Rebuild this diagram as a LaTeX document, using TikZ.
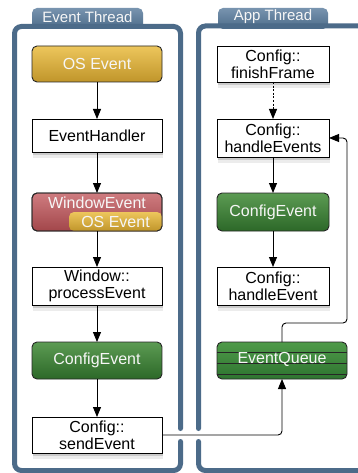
\documentclass[tikz,border=0pt]{standalone}
\usepackage{fontspec}
\setmainfont{Liberation Sans}
\usetikzlibrary{arrows.meta,shadows}
\definecolor{frame}{HTML}{4C6B89}
\definecolor{frametop}{HTML}{7894AF}
\definecolor{goldtop}{HTML}{EDC65C}
\definecolor{goldbot}{HTML}{C0952A}
\definecolor{redtop}{HTML}{CF7C80}
\definecolor{redbot}{HTML}{A2464A}
\definecolor{greentop}{HTML}{5C9B53}
\definecolor{greenbot}{HTML}{2C6828}
\definecolor{eqtop}{HTML}{4F9A49}
\definecolor{eqbot}{HTML}{2E7430}
\definecolor{txtw}{HTML}{F6F6F6}
\begin{document}
\begin{tikzpicture}[x=1pt,y=-1pt,
  every node/.style={font=\fontsize{16}{17}\selectfont, align=center, inner sep=0pt, outer sep=0pt},
  shadowed/.style={drop shadow={shadow xshift=0.5pt, shadow yshift=-3pt, opacity=0.3},
                   drop shadow={shadow xshift=1pt, shadow yshift=-6pt, opacity=0.15}},
  wbox/.style={draw=black, line width=0.9pt, fill=white, shadowed},
  goldbox/.style={draw=black!85, line width=0.9pt, rounded corners=5pt, top color=goldtop, bottom color=goldbot, text=txtw},
  redbox/.style={draw=black!85, line width=0.9pt, rounded corners=5pt, top color=redtop, bottom color=redbot, text=txtw},
  greenbox/.style={draw=black!85, line width=0.9pt, rounded corners=5pt, top color=greentop, bottom color=greenbot, text=txtw},
  queuebox/.style={draw=black!85, line width=0.9pt, rounded corners=5pt, top color=eqtop, bottom color=eqbot, text=txtw},
  frameline/.style={draw=frame, line width=5pt, rounded corners=7pt, line cap=round},
  tabshape/.style={top color=frametop, bottom color=frame, rounded corners=5pt},
  tabtext/.style={text=txtw, font=\fontsize{15}{16}\selectfont},
  arr/.style={-{Triangle[length=10pt,width=8pt]}, line width=0.9pt, draw=black},
  darr/.style={arr, dash pattern=on 2pt off 1.6pt}
]
\clip (0,0) rectangle (358,473);
\fill[white] (0,0) rectangle (358,473);

% tabs
\shade[tabshape] (32,29) -- (32,8) -- (143,8) -- (143,29) -- cycle;
\shade[tabshape] (218,29) -- (218,8) -- (328,8) -- (328,29) -- cycle;

% frames
\draw[frameline] (180.5,428.5) -- (180.5,26.5) -- (14.5,26.5) -- (14.5,470.5) -- (180.5,470.5) -- (180.5,441.5);
\draw[frameline] (198.5,428.5) -- (198.5,26) -- (420,26);
\draw[frameline] (198.5,441.5) -- (198.5,470.5) -- (420,470.5);

\node[tabtext] (tab1) at (87.5,17) {Event Thread};
\node[tabtext] (tab2) at (273,17) {App Thread};

% Event thread nodes
\node[goldbox, minimum width=130pt, minimum height=36pt] (ose) at (97,64) {OS Event};
\node[wbox, minimum width=130pt, minimum height=33pt] (eh) at (97,135.5) {EventHandler};
\node[redbox, minimum width=130pt, minimum height=38pt] (we) at (97,212) {};
\node[goldbox, draw=none, minimum width=93pt, minimum height=19pt] (weos) at (115.5,221.5) {OS Event};
\draw[line width=0.9pt, draw=black!85, rounded corners=5pt] (we.north west) rectangle (we.south east);
\node[text=txtw] (wetxt) at (97,203) {WindowEvent};
\node[wbox, minimum width=130pt, minimum height=38pt] (pe) at (97,286) {Window::\\processEvent};
\node[greenbox, minimum width=130pt, minimum height=37pt] (ce1) at (97,360.5) {ConfigEvent};
\node[wbox, minimum width=130pt, minimum height=36pt] (se) at (97,435) {Config::\\sendEvent};

% App thread nodes
\node[wbox, minimum width=112pt, minimum height=36pt] (ff) at (273,64) {Config::\\finishFrame};
\node[wbox, minimum width=112pt, minimum height=38pt] (hes) at (273,138) {Config::\\handleEvents};
\node[greenbox, minimum width=112pt, minimum height=38pt] (ce2) at (273,212) {ConfigEvent};
\node[wbox, minimum width=112pt, minimum height=38pt] (hev) at (273,286) {Config::\\handleEvent};
\node[queuebox, minimum width=130pt, minimum height=37pt] (eq) at (282,360.5) {};
\draw[line width=0.9pt, black!85] ([yshift=8.5pt]eq.west) -- ([yshift=8.5pt]eq.east);
\draw[line width=0.9pt, black!85] ([yshift=-2.5pt]eq.west) -- ([yshift=-2.5pt]eq.east);
\draw[line width=0.9pt, black!85] ([yshift=-13.5pt]eq.west) -- ([yshift=-13.5pt]eq.east);
\node[text=txtw] (eqtxt) at (282,359.5) {EventQueue};

% connectors
\draw[arr] (ose) -- (eh);
\draw[arr] (eh) -- (we);
\draw[arr] (we) -- (pe);
\draw[arr] (pe) -- (ce1);
\draw[arr] (ce1) -- (se);
\draw[darr] (ff) -- (hes);
\draw[arr] (hes) -- (ce2);
\draw[arr] (ce2) -- (hev);
\coordinate (r1) at (347,323);
\draw[arr, rounded corners=4pt] (se.east) -| (eq.south);
\draw[arr, rounded corners=4pt] (eq.north) |- (r1) |- (hes.east);
\end{tikzpicture}
\end{document}
